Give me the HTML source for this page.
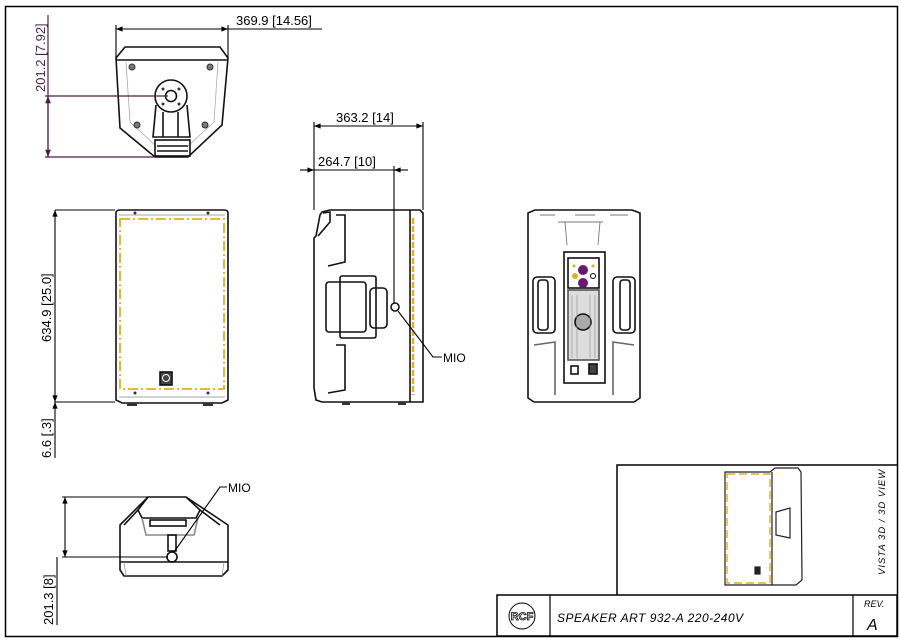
<!DOCTYPE html>
<html><head><meta charset="utf-8"><style>
html,body{margin:0;padding:0;background:#fff;}
svg{display:block;}
text{font-family:"Liberation Sans",sans-serif;}
</style></head><body>
<svg width="900" height="641" viewBox="0 0 900 641" xmlns="http://www.w3.org/2000/svg">
<defs>
<marker id="a" viewBox="0 0 10 10" refX="10" refY="5" markerWidth="8" markerHeight="6" orient="auto-start-reverse"><path d="M0,1 L10,5 L0,9 z" fill="#000"/></marker>
<marker id="p" viewBox="0 0 10 10" refX="10" refY="5" markerWidth="8" markerHeight="6" orient="auto-start-reverse"><path d="M0,1 L10,5 L0,9 z" fill="#4a1f45"/></marker>
</defs>
<rect x="5.5" y="6.5" width="892" height="630" fill="none" stroke="#000" stroke-width="1.5"/>

<!-- TOP VIEW -->
<g fill="none" stroke="#111" stroke-width="1.6">
<path d="M116,58 L125,47 L220,47 L228,58 L222,125 L188,157 L155,157 L120,128 Z"/>
<line x1="116" y1="60" x2="228" y2="60"/>
<path d="M126,62 L130,122 L156,146 M218,62 L214,122 L188,146" stroke="#aaa" stroke-width="0.8"/>
<circle cx="171" cy="96" r="16"/><circle cx="171" cy="96" r="5.5"/>
<path d="M156,105 L153,137 L190,137 L187,105 M163,112 L163,137 M178,112 L178,137"/>
<rect x="155" y="140" width="35" height="16"/>
<line x1="157" y1="146" x2="188" y2="146"/><line x1="157" y1="151" x2="188" y2="151"/>
</g>
<g fill="#777" stroke="#333"><circle cx="132" cy="67" r="3"/><circle cx="210" cy="67" r="3"/><circle cx="137" cy="125" r="3"/><circle cx="205" cy="125" r="3"/></g>
<g fill="#333"><circle cx="163" cy="89" r="1.5"/><circle cx="179" cy="89" r="1.5"/><circle cx="163" cy="104" r="1.5"/><circle cx="179" cy="104" r="1.5"/></g>
<g stroke="#000" stroke-width="1.1" fill="none">
<line x1="116" y1="25" x2="116" y2="58"/><line x1="228" y1="25" x2="228" y2="58"/>
<line x1="116" y1="29" x2="228" y2="29" marker-start="url(#a)" marker-end="url(#a)"/>
<line x1="228" y1="29" x2="322" y2="29"/>
</g>
<text x="236" y="25" font-size="13">369.9 [14.56]</text>
<g stroke="#4a1f45" stroke-width="1.2" fill="none">
<line x1="48" y1="15" x2="48" y2="157"/>
<line x1="48" y1="96" x2="48" y2="157" marker-start="url(#p)" marker-end="url(#p)"/>
<line x1="45" y1="96" x2="168" y2="96"/><line x1="45" y1="157" x2="155" y2="157"/>
</g>
<text transform="translate(45,92) rotate(-90)" font-size="13" fill="#4a1f45">201.2 [7.92]</text>

<!-- FRONT VIEW -->
<g fill="none" stroke="#111" stroke-width="1.6">
<path d="M116,213 Q116,210 120,210 L224,210 Q228,210 228,213 L228,400 L222,403 L122,403 L116,400 Z"/>
<line x1="119" y1="215" x2="225" y2="215" stroke="#888" stroke-width="0.8"/>
<line x1="119" y1="397" x2="225" y2="397" stroke="#888" stroke-width="0.8"/>
<rect x="160" y="372" width="12" height="13" fill="#444"/>
<circle cx="166" cy="378" r="3.5" stroke="#fff" stroke-width="1"/>
</g>
<rect x="120" y="219" width="104" height="170" fill="none" stroke="#e0b020" stroke-width="1.8" stroke-dasharray="10,3,2,3"/>
<g fill="#333"><circle cx="135" cy="213" r="1.5"/><circle cx="208" cy="213" r="1.5"/><circle cx="135" cy="393" r="1.5"/><circle cx="208" cy="393" r="1.5"/></g>
<rect x="127" y="403" width="10" height="3" fill="#333"/><rect x="203" y="403" width="10" height="3" fill="#333"/>
<g stroke="#000" stroke-width="1.1" fill="none">
<line x1="55" y1="210" x2="115" y2="210"/><line x1="55" y1="402" x2="115" y2="402"/>
<line x1="55" y1="210" x2="55" y2="402" marker-start="url(#a)" marker-end="url(#a)"/>
<line x1="55" y1="402" x2="55" y2="458"/>
<line x1="55" y1="409" x2="55" y2="402" marker-end="url(#a)"/>
</g>
<text transform="translate(51,342) rotate(-90)" font-size="13">634.9 [25.0]</text>
<text transform="translate(51,458) rotate(-90)" font-size="13">6.6 [.3]</text>

<!-- BOTTOM VIEW -->
<g fill="none" stroke="#111" stroke-width="1.6">
<path d="M148,497 L186,497 L228,525 L228,570 L222,576 L124,576 L120,570 L120,525 Z"/>
<line x1="120" y1="562" x2="228" y2="562"/>
<path d="M148,497 L138,510 L142,518 L196,518 L200,510 L186,497"/>
<path d="M138,510 L124,525 M200,510 L220,525"/>
<path d="M142,518 L146,535 L194,535 L198,518" stroke="#888"/>
<rect x="150" y="520" width="36" height="6"/>
<rect x="168" y="535" width="8" height="16"/>
<circle cx="172" cy="557" r="5"/>
<path d="M124,562 L126,576 M224,562 L222,576" stroke="#999" stroke-width="0.8"/>
</g>
<g stroke="#000" stroke-width="1.1" fill="none">
<line x1="62" y1="497" x2="148" y2="497"/><line x1="62" y1="557" x2="168" y2="557"/>
<line x1="65" y1="497" x2="65" y2="557" marker-start="url(#a)" marker-end="url(#a)"/>
<line x1="57" y1="557" x2="57" y2="625"/>
<polyline points="174,552 220,487 227,487"/>
</g>
<text x="228" y="492" font-size="12">MIO</text>
<text transform="translate(53,625) rotate(-90)" font-size="13">201.3 [8]</text>

<!-- SIDE VIEW -->
<g fill="none" stroke="#111" stroke-width="1.6">
<path d="M322,212 L320,215 L316,236 L314,238 L314,388 L316,400 L322,402 L423,402 L423,213 L420,210 L330,210 Z"/>
<line x1="410" y1="210" x2="410" y2="402"/>
<path d="M323,213 L330,212 L330,222 L318,236 M336,215 L345,215 L345,262 L328,266"/>
<path d="M336,345 L345,345 L345,390 L328,393"/>
<rect x="326" y="282" width="40" height="50" rx="3"/>
<rect x="340" y="276" width="36" height="62" rx="2"/>
<rect x="370" y="288" width="17" height="40" rx="4"/>
<circle cx="395" cy="307" r="4"/>
</g>
<line x1="413" y1="218" x2="413" y2="395" stroke="#e0b020" stroke-width="2.5" stroke-dasharray="6,2"/>
<rect x="342" y="402" width="8" height="3" fill="#333"/><rect x="398" y="402" width="8" height="3" fill="#333"/>
<g stroke="#000" stroke-width="1.1" fill="none">
<line x1="314" y1="122" x2="314" y2="210"/><line x1="423" y1="122" x2="423" y2="210"/>
<line x1="314" y1="126" x2="423" y2="126" marker-start="url(#a)" marker-end="url(#a)"/>
<line x1="300" y1="170" x2="314" y2="170" marker-end="url(#a)"/>
<line x1="314" y1="170" x2="394" y2="170"/>
<line x1="408" y1="170" x2="394" y2="170" marker-end="url(#a)"/>
<line x1="394" y1="166" x2="394" y2="303"/>
<polyline points="398,311 433,357 442,357"/>
</g>
<text x="336" y="122" font-size="13">363.2 [14]</text>
<text x="318" y="166" font-size="13">264.7 [10]</text>
<text x="443" y="362" font-size="12">MIO</text>

<!-- REAR VIEW -->
<g fill="none" stroke="#111" stroke-width="1.6">
<path d="M528,213 L535,210 L632,210 L640,213 L640,398 L634,402 L534,402 L528,398 Z"/>
<path d="M540,215 L555,215 M575,215 L595,215 M610,215 L628,215 M558,222 L603,222 M565,222 L567,245 M600,222 L598,245" stroke="#777" stroke-width="0.9"/>
<rect x="564" y="252" width="41" height="131" fill="#fff"/>
<rect x="568" y="258" width="31" height="30"/>
<rect x="568" y="290" width="31" height="70" fill="#ddd" stroke="#555"/>
<circle cx="583" cy="322" r="8" fill="#aaa"/>
<rect x="571" y="366" width="7" height="8"/><rect x="589" y="364" width="8" height="10" fill="#444"/>
<rect x="533" y="277" width="22" height="56" rx="4"/>
<rect x="538" y="280" width="10" height="50" rx="3"/>
<rect x="613" y="277" width="22" height="56" rx="4"/>
<rect x="620" y="280" width="10" height="50" rx="3"/>
<path d="M534,345 L555,342 L555,395 M634,345 L613,342 L613,395" stroke="#666"/>
</g>
<circle cx="583" cy="270" r="5" fill="#6a1a6a"/>
<circle cx="583" cy="283" r="5" fill="#6a1a6a"/>
<circle cx="575" cy="276" r="3" fill="#e0b020"/>
<circle cx="593" cy="276" r="2.5" fill="none" stroke="#000"/>
<circle cx="574" cy="266" r="1.5" fill="#e0b020"/><circle cx="593" cy="266" r="1.5" fill="#e0b020"/>
<g stroke="#999" stroke-width="0.7"><line x1="572" y1="295" x2="572" y2="358"/><line x1="577" y1="295" x2="577" y2="358"/><line x1="590" y1="295" x2="590" y2="358"/><line x1="595" y1="295" x2="595" y2="358"/></g>

<!-- 3D VIEW BOX -->
<path d="M617,595 L617,465 L897,465" fill="none" stroke="#000" stroke-width="1.5"/>
<g fill="none" stroke="#222" stroke-width="1.2">
<path d="M725,472 L770,472 L775,468 L798,468 L801,472 L802,580 L796,585 L772,585 L725,585 Z"/>
<line x1="772" y1="472" x2="772" y2="585"/>
<path d="M776,512 L790,508 L790,538 L776,535 Z"/>
<rect x="755" y="567" width="5" height="7" fill="#222"/>
</g>
<rect x="727" y="474" width="43" height="109" fill="none" stroke="#e0b020" stroke-width="1.4" stroke-dasharray="8,4"/>
<text transform="translate(885,575) rotate(-90)" font-size="9.5" font-style="italic" letter-spacing="1">VISTA 3D / 3D VIEW</text>

<!-- TITLE BLOCK -->
<rect x="497" y="595" width="400" height="41" fill="none" stroke="#000" stroke-width="1.5"/>
<line x1="550" y1="595" x2="550" y2="636" stroke="#000" stroke-width="1.2"/>
<line x1="853" y1="595" x2="853" y2="636" stroke="#000" stroke-width="1.2"/>
<circle cx="522" cy="616" r="13" fill="none" stroke="#000" stroke-width="1"/>
<text x="522" y="620" font-size="11" text-anchor="middle" font-weight="bold" fill="#fff" stroke="#000" stroke-width="0.8">RCF</text>
<text x="557" y="622" font-size="12" font-style="italic" letter-spacing="0.5">SPEAKER ART 932-A 220-240V</text>
<text x="864" y="607" font-size="9" font-style="italic">REV.</text>
<text x="867" y="630" font-size="16" font-style="italic">A</text>
</svg>
</body></html>
